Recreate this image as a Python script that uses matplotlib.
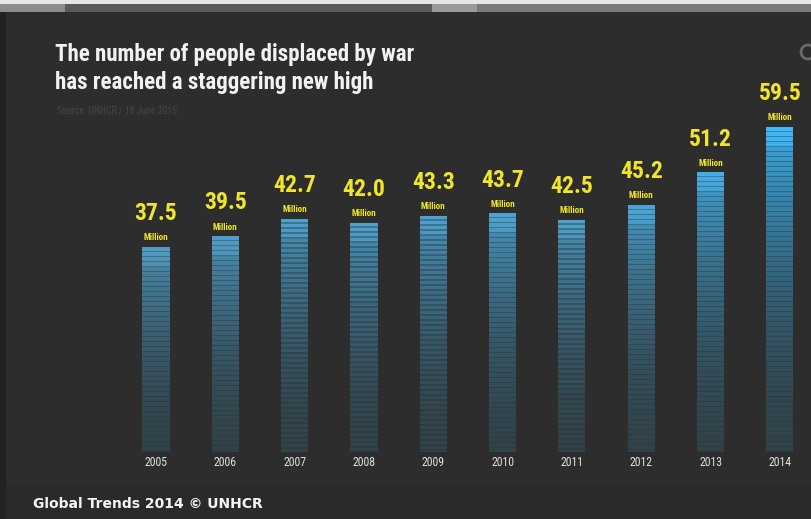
import matplotlib
matplotlib.use("Agg")
import matplotlib.pyplot as plt
import numpy as np
from matplotlib.colors import to_rgb
from matplotlib.patches import Rectangle, Circle

# Data
YEARS = ['2005', '2006', '2007', '2008', '2009', '2010', '2011', '2012', '2013', '2014']
DISPLACED = [37.5, 39.5, 42.7, 42.0, 43.3, 43.7, 42.5, 45.2, 51.2, 59.5]

TITLE = "The number of people displaced by war\nhas reached a staggering new high"
SOURCE = "Source: UNHCR / 18 June 2015"
FOOTER = "Global Trends 2014 \u00a9 UNHCR"

BG = "#2d2d2d"
YELLOW = "#f0e52a"
NARROW = ['Liberation Sans Narrow', 'Roboto Condensed', 'DejaVu Sans']

W, H = 812, 519
fig = plt.figure(figsize=(W / 100, H / 100), dpi=100)
fig.patch.set_facecolor(BG)

# ---- background layer in pixel coordinates
bg = fig.add_axes([0, 0, 1, 1])
bg.set_xlim(0, W)
bg.set_ylim(H, 0)
bg.axis('off')
bg.add_patch(Rectangle((0, 0), W, 4, color="#e6e6e6", lw=0))
bg.add_patch(Rectangle((0, 4), W, 8, color="#5a5a5a", lw=0))
bg.add_patch(Rectangle((0, 4), 65, 8, color="#8c8c8c", lw=0))
bg.add_patch(Rectangle((432, 4), 45, 8, color="#9a9a9a", lw=0))
bg.add_patch(Rectangle((477, 4), W - 477, 8, color="#7a7a7a", lw=0))
bg.add_patch(Rectangle((0, 12), 6, H, color="#222222", lw=0))
bg.add_patch(Rectangle((6, 483), W, H - 483, color="#2a2a2a", lw=0))
bg.add_patch(Circle((808, 52), 7, fill=False, ec="#6a6a6a", lw=2))

bg.text(55, 43, TITLE, color="#f2f2f2", fontsize=16.5, fontweight='bold',
        family=NARROW, va='top', ha='left', linespacing=1.3)
bg.text(57, 110, SOURCE, color="#474747", fontsize=7, family=NARROW,
        va='center', ha='left')
bg.text(33, 504, FOOTER, color="#f4f4f4", fontsize=10, fontweight='bold',
        family='DejaVu Sans', va='center', ha='left')

# ---- data axes: scaled so bars land where the reference has them
ax = fig.add_axes([0, 0, 1, 1])
ax.patch.set_alpha(0)
ax.axis('off')
px_per_unit = 5.46
x0, dx, base = 156, 69.33, 452
ax.set_xlim(-x0 / dx, (W - x0) / dx)
ax.set_ylim(-(H - base) / px_per_unit, base / px_per_unit)

bottom_c = np.array(to_rgb("#30434b"))
low_top = np.array(to_rgb("#4a8db0"))
high_top = np.array(to_rgb("#38a8e2"))
bg_c = np.array(to_rgb(BG))

step = 5.0 / px_per_unit
fill = 0.68
width = 0.39
vmin, vmax = min(DISPLACED), max(DISPLACED)

for i, (year, v) in enumerate(zip(YEARS, DISPLACED)):
    k = (v - vmin) / (vmax - vmin)
    top_c = low_top + (high_top - low_top) * k
    n = int(np.ceil(v / step))
    for s in range(n):
        top = v - s * step
        y0 = max(top - step, 0)
        t = (top / v) ** 1.8
        c = bottom_c + (top_c - bottom_c) * t
        if s < 4:
            c = np.clip(c * 1.1, 0, 1)
        gap = c * 0.6 + bg_c * 0.4
        ax.bar(i, top - y0, bottom=y0, width=width, color=gap, lw=0)
        h = min(step * fill, top - y0)
        ax.bar(i, h, bottom=top - h, width=width, color=c, lw=0)

    ax.text(i, v + 4.0, f"{v:.1f}", color=YELLOW, fontsize=17, fontweight='bold',
            family=NARROW, ha='center', va='bottom')
    ax.text(i, v + 1.7, "Million", color=YELLOW, fontsize=6.5, fontweight='bold',
            family=NARROW, ha='center', va='center')
    ax.text(i, -11 / px_per_unit, year, color="#e0e0e0", fontsize=8.5,
            family=NARROW, ha='center', va='center')

fig.savefig("out.png", dpi=100, facecolor=BG)
